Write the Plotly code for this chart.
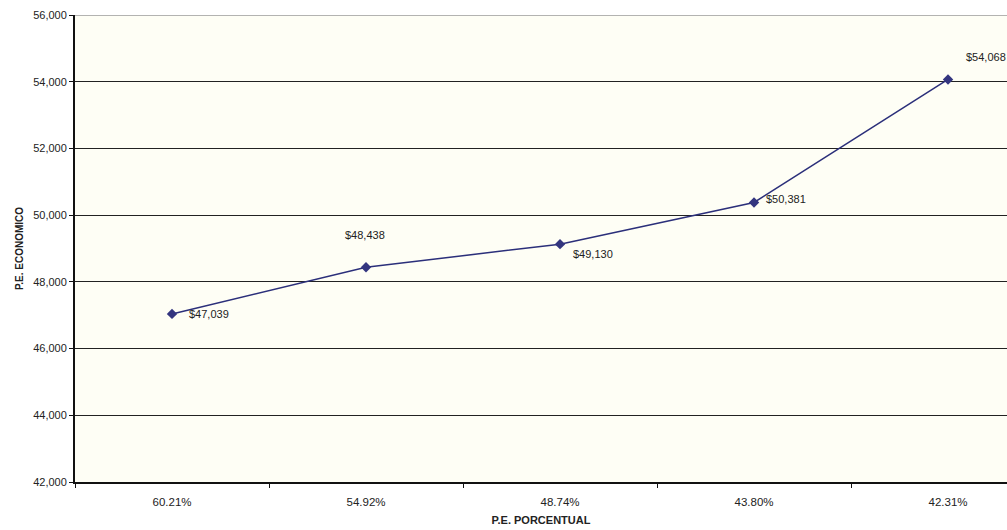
import plotly.graph_objects as go

# Break-even point: percentage vs. economic value
categorias = ["60.21%", "54.92%", "48.74%", "43.80%", "42.31%"]
valores = [47039, 48438, 49130, 50381, 54068]
etiquetas = ["$47,039", "$48,438", "$49,130", "$50,381", "$54,068"]
y_ticks = [42000, 44000, 46000, 48000, 50000, 52000, 54000, 56000]

# label offsets (pixels) per point
offsets = [(15, 0, "left", "middle"),
           (-23, 24, "left", "bottom"),
           (11, -2, "left", "top"),
           (10, 3, "left", "middle"),
           (16, 14, "left", "bottom")]

fig = go.Figure()
fig.add_trace(go.Scatter(
    x=categorias, y=valores, mode="lines+markers",
    line=dict(color="#2b2f7a", width=1.5),
    marker=dict(symbol="diamond", size=8, color="#33357f"),
    hoverinfo="skip", showlegend=False,
))

for i, (c, v, t) in enumerate(zip(categorias, valores, etiquetas)):
    dx, dy, xa, ya = offsets[i]
    fig.add_annotation(x=c, y=v, text=t, showarrow=False,
                       xshift=dx, yshift=dy, xanchor=xa, yanchor=ya,
                       font=dict(family="Liberation Sans, Arial", size=11, color="#222222"))

# top border of the plot area
fig.add_shape(type="line", xref="paper", x0=0, x1=1, yref="y", y0=56000, y1=56000,
              line=dict(color="#9a9a9a", width=1.5))

fig.update_layout(
    width=1007, height=530,
    margin=dict(l=75, r=0, t=15, b=48),
    paper_bgcolor="white",
    plot_bgcolor="#fefef5",
    font=dict(family="Liberation Sans, Arial", size=11, color="#222222"),
    xaxis=dict(
        type="category", range=[-0.5, 4.304],
        showgrid=False, showline=True, linecolor="#111111", linewidth=1.5,
        ticks="outside", tickson="boundaries", ticklen=4, tickcolor="#111111",
        ticklabelstandoff=8,
        tickfont=dict(size=11.5),
        title=dict(text="<b>P.E. PORCENTUAL</b>", font=dict(size=11), standoff=10),
    ),
    yaxis=dict(
        range=[42000, 56000], tickvals=y_ticks, tickformat=",d",
        showgrid=True, gridcolor="#222222", gridwidth=1,
        showline=True, linecolor="#111111", linewidth=2,
        ticks="outside", ticklen=4, tickcolor="#111111",
        zeroline=False,
        tickfont=dict(size=11),
        title=dict(text="<b>P.E. ECONOMICO</b>", font=dict(size=10), standoff=8),
    ),
)

fig.write_html("out.html")
